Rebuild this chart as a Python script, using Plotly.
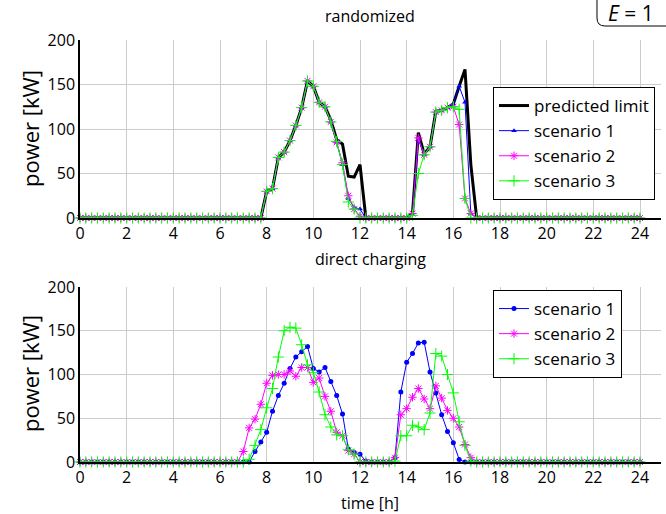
import plotly.graph_objs as go

# quarter-hour time grid, 0..24 h
hours = [i * 0.25 for i in range(97)]

# top panel: randomized
top_limit = [0]*32 + [30, 33, 68, 74, 87, 104, 124, 154, 148, 130, 125, 110, 88, 83, 47, 46, 60] + [0]*8 + [5, 96, 72, 80, 120, 121, 124, 128, 148, 167, 60] + [0]*29
top_s1 = [0]*32 + [30, 33, 68, 74, 87, 104, 124, 154, 148, 130, 125, 108, 85, 60, 22, 12, 10] + [0]*8 + [4, 88, 71, 80, 119, 121, 124, 128, 148, 130, 5] + [0]*29
top_s2 = [0]*32 + [30, 33, 68, 74, 87, 104, 124, 154, 148, 130, 125, 108, 85, 62, 25, 10, 2] + [0]*8 + [5, 90, 71, 80, 119, 121, 124, 125, 105, 22, 5] + [0]*29
top_s3 = [0]*32 + [30, 33, 68, 74, 87, 104, 124, 154, 148, 130, 125, 108, 86, 60, 18, 10, 0] + [0]*8 + [3, 50, 71, 80, 119, 121, 124, 125, 122, 22, 0] + [0]*29

# bottom panel: direct charging
bot_s1 = [0]*30 + [12, 23, 34, 58, 76, 90, 107, 120, 126, 132, 107, 103, 108, 92, 76, 55, 15, 11, 9, 1] + [0]*4 + [5, 80, 114, 124, 136, 137, 103, 79, 54, 35, 22, 3] + [0]*31
bot_s2 = [0]*28 + [12, 39, 49, 66, 90, 99, 100, 100, 104, 98, 108, 108, 91, 96, 75, 58, 34, 30, 13, 9] + [0]*6 + [5, 54, 61, 74, 84, 72, 61, 87, 73, 59, 50, 40, 20, 5] + [0]*29
bot_s3 = [0]*29 + [3, 19, 37, 62, 84, 120, 150, 154, 153, 134, 111, 102, 80, 54, 40, 31, 30, 14, 9] + [0]*6 + [1, 30, 30, 42, 40, 37, 56, 124, 121, 100, 79, 46, 19, 1] + [0]*29

x_ticks = list(range(0, 25, 2))
y_ticks = [0, 50, 100, 150, 200]

FONT = 'Open Sans'
BLUE, MAGENTA, GREEN = '#0000ff', '#ff00ff', '#00ff00'

data = []
data.append(go.Scatter(x=hours, y=top_limit, mode='lines', name='predicted limit',
                       line=dict(color='black', width=3), legend='legend'))
data.append(go.Scatter(x=hours, y=top_s1, mode='lines+markers', name='scenario 1',
                       line=dict(color=BLUE, width=1), cliponaxis=False,
                       marker=dict(symbol='triangle-up', size=5, color=BLUE), legend='legend'))
data.append(go.Scatter(x=hours, y=top_s2, mode='lines+markers', name='scenario 2',
                       line=dict(color=MAGENTA, width=1), cliponaxis=False,
                       marker=dict(symbol='asterisk-open', size=7, color=MAGENTA,
                                   line=dict(color=MAGENTA, width=1)), legend='legend'))
data.append(go.Scatter(x=hours, y=top_s3, mode='lines+markers', name='scenario 3',
                       line=dict(color=GREEN, width=1), cliponaxis=False,
                       marker=dict(symbol='cross-thin-open', size=8, color=GREEN,
                                   line=dict(color=GREEN, width=1)), legend='legend'))

data.append(go.Scatter(x=hours, y=bot_s1, mode='lines+markers', name='scenario 1',
                       xaxis='x2', yaxis='y2', line=dict(color=BLUE, width=1), cliponaxis=False,
                       marker=dict(symbol='circle', size=5, color=BLUE), legend='legend2'))
data.append(go.Scatter(x=hours, y=bot_s2, mode='lines+markers', name='scenario 2',
                       xaxis='x2', yaxis='y2', line=dict(color=MAGENTA, width=1), cliponaxis=False,
                       marker=dict(symbol='asterisk-open', size=7, color=MAGENTA,
                                   line=dict(color=MAGENTA, width=1)), legend='legend2'))
data.append(go.Scatter(x=hours, y=bot_s3, mode='lines+markers', name='scenario 3',
                       xaxis='x2', yaxis='y2', line=dict(color=GREEN, width=1), cliponaxis=False,
                       marker=dict(symbol='cross-thin-open', size=8, color=GREEN,
                                   line=dict(color=GREEN, width=1)), legend='legend2'))

xax = dict(range=[0, 24.9], tickvals=x_ticks, showgrid=True, gridcolor='#cccccc', gridwidth=1,
           showline=True, linecolor='black', linewidth=1.5, zeroline=False,
           ticks='', tickfont=dict(size=16, color='black'))
yax = dict(range=[0, 200], tickvals=y_ticks, showgrid=True, gridcolor='#cccccc', gridwidth=1,
           showline=True, linecolor='black', linewidth=1.5, zeroline=False,
           ticks='', tickfont=dict(size=16, color='black'))

leg = dict(xanchor='left', yanchor='top', bordercolor='black', borderwidth=1, bgcolor='white',
           font=dict(size=17, family=FONT, color='black'), itemwidth=30, tracegroupgap=0)


def px_x(p):
    return (p - 80) / 581.0


def px_y(p):
    return (462 - p) / 422.0


def label(text, x, y, size, **kw):
    return dict(text=text, x=px_x(x), y=px_y(y), xref='paper', yref='paper',
                xanchor=kw.pop('xanchor', 'center'), yanchor='middle',
                showarrow=False, font=dict(size=size), **kw)


annotations = [
    label('randomized', 370, 16, 16),
    label('direct charging', 370, 259, 16),
    label('time [h]', 370, 503, 16),
    label('power [kW]', 30, 129, 22, textangle=-90),
    label('power [kW]', 30, 374, 22, textangle=-90),
    label('<i>E</i> = 1', 606, 13, 21, xanchor='left'),
]

box_path = 'M %f,%f L %f,%f Q %f,%f %f,%f L %f,%f' % (
    px_x(597), px_y(-5), px_x(597), px_y(18), px_x(597), px_y(26),
    px_x(605), px_y(26), px_x(700), px_y(26))

layout = go.Layout(
    width=666, height=514,
    margin=dict(l=80, r=5, t=40, b=52, autoexpand=False),
    paper_bgcolor='white', plot_bgcolor='white',
    font=dict(family=FONT, color='black'),
    xaxis=dict(xax, domain=[0, 1], anchor='y'),
    yaxis=dict(yax, domain=[px_y(218), 1], anchor='x'),
    xaxis2=dict(xax, domain=[0, 1], anchor='y2'),
    yaxis2=dict(yax, domain=[0, px_y(287)], anchor='x2'),
    legend=dict(leg, x=px_x(493), y=px_y(87)),
    legend2=dict(leg, x=px_x(493), y=px_y(290)),
    annotations=annotations,
    shapes=[dict(type='path', path=box_path, xref='paper', yref='paper',
                 line=dict(color='black', width=1))],
)

fig = go.Figure(data=data, layout=layout)
# page has a default body margin; drop it so the figure sits at the top-left corner
fig.write_html('out.html', config={'displayModeBar': False},
               post_script="document.body.style.margin='0';document.body.style.overflow='hidden';")
